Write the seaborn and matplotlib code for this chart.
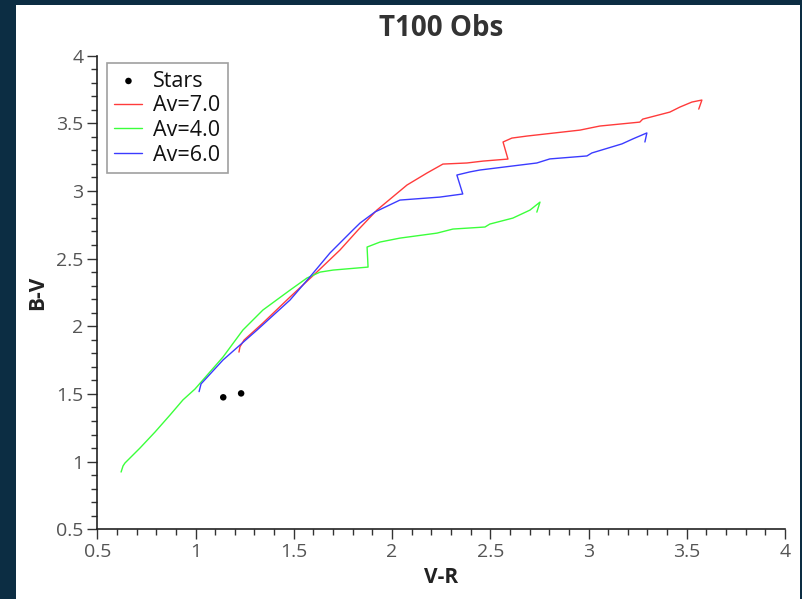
import matplotlib
matplotlib.use("Agg")
import matplotlib.pyplot as plt
from matplotlib.patches import Rectangle
from matplotlib.ticker import MultipleLocator
import numpy as np
import pandas as pd
import seaborn as sns

# Observed stars
stars_vr = [1.141, 1.232]
stars_bv = [1.475, 1.504]

# Reddening track, Av = 7.0
av7_vr = [1.221, 1.226, 1.247, 1.343, 1.481, 1.618, 1.735, 1.827, 1.923, 2.076,
          2.178, 2.259, 2.381, 2.463, 2.590, 2.565, 2.610, 2.687, 2.957, 3.007,
          3.058, 3.261, 3.276, 3.414, 3.465, 3.526, 3.577, 3.561]
av7_bv = [1.809, 1.848, 1.898, 2.024, 2.216, 2.401, 2.563, 2.711, 2.858, 3.043,
          3.132, 3.198, 3.206, 3.220, 3.235, 3.361, 3.390, 3.405, 3.449, 3.464,
          3.479, 3.508, 3.530, 3.582, 3.619, 3.656, 3.671, 3.604]

# Reddening track, Av = 4.0
av4_vr = [0.621, 0.631, 0.641, 0.717, 0.794, 0.870, 0.936, 0.997, 1.140, 1.241,
          1.343, 1.481, 1.567, 1.634, 1.700, 1.878, 1.873, 1.939, 2.040, 2.229,
          2.310, 2.473, 2.498, 2.615, 2.702, 2.753, 2.737]
av4_bv = [0.923, 0.968, 0.990, 1.100, 1.219, 1.344, 1.456, 1.536, 1.773, 1.972,
          2.120, 2.267, 2.356, 2.400, 2.415, 2.437, 2.585, 2.622, 2.651, 2.688,
          2.718, 2.733, 2.755, 2.799, 2.858, 2.917, 2.843]

# Reddening track, Av = 6.0
av6_vr = [1.018, 1.028, 1.140, 1.313, 1.481, 1.582, 1.684, 1.801, 1.837, 1.913,
          2.040, 2.243, 2.360, 2.330, 2.396, 2.447, 2.737, 2.803, 2.992, 3.017,
          3.170, 3.226, 3.297, 3.287]
av6_bv = [1.517, 1.574, 1.751, 1.972, 2.194, 2.364, 2.541, 2.711, 2.762, 2.844,
          2.932, 2.954, 2.977, 3.117, 3.140, 3.154, 3.206, 3.236, 3.258, 3.280,
          3.347, 3.384, 3.428, 3.361]

x_ticks = [0.5, 1, 1.5, 2, 2.5, 3, 3.5, 4]
y_ticks = [0.5, 1, 1.5, 2, 2.5, 3, 3.5, 4]

sns.set_theme(style="ticks")
plt.rcParams["font.family"] = ["Open Sans", "DejaVu Sans"]

W, H = 802, 599
fig = plt.figure(figsize=(W / 100, H / 100), dpi=100)
fig.patch.set_facecolor("#0c2d43")
# white page behind the plot
page = Rectangle((16 / W, 0), (800 - 16) / W, (H - 5) / H,
                 transform=fig.transFigure, facecolor="white",
                 edgecolor="none", zorder=-10)
fig.add_artist(page)

ax = fig.add_axes([97.3 / W, (H - 529.3) / H, (785 - 97.3) / W, (529.3 - 55.5) / H])
ax.set_zorder(1)
ax.set_facecolor("none")

sns.scatterplot(x=stars_vr, y=stars_bv, ax=ax, color="black", s=22,
                edgecolor="none", label="Stars", zorder=5)
tracks = [("Av=7.0", av7_vr, av7_bv, "#ff3b3b"),
          ("Av=4.0", av4_vr, av4_bv, "#3bff3b"),
          ("Av=6.0", av6_vr, av6_bv, "#3b3bff")]
for name, xs, ys, col in tracks:
    df = pd.DataFrame({"V-R": xs, "B-V": ys})
    sns.lineplot(data=df, x="V-R", y="B-V", ax=ax, sort=False, estimator=None,
                 color=col, lw=1.0, label=name)

ax.set_xlim(0.5, 4)
ax.set_ylim(0.5, 4)
ax.set_xticks(x_ticks)
ax.set_yticks(y_ticks)
ax.set_xticklabels([f"{t:g}" for t in x_ticks])
ax.set_yticklabels([f"{t:g}" for t in y_ticks])
ax.xaxis.set_minor_locator(MultipleLocator(0.1))
ax.yaxis.set_minor_locator(MultipleLocator(0.1))
ax.tick_params(which="major", direction="out", length=7, width=1, color="#333333",
               labelsize=14, labelcolor="#555555", pad=3)
ax.tick_params(which="minor", direction="out", length=4.5, width=1, color="#333333")
for side in ("top", "right"):
    ax.spines[side].set_visible(False)
for side in ("left", "bottom"):
    ax.spines[side].set_color("#222222")
    ax.spines[side].set_linewidth(1.2)

ax.set_xlabel("V-R", fontsize=15, fontweight="bold", color="#222222", labelpad=4)
ax.set_ylabel("B-V", fontsize=15, fontweight="bold", color="#222222", labelpad=6)
ax.set_title("T100 Obs", fontsize=20, fontweight="bold", color="#333333", pad=14)

leg = ax.legend(loc="upper left", bbox_to_anchor=(0.014, 0.984), borderaxespad=0,
                fontsize=15.5, frameon=True, fancybox=False, handlelength=1.3,
                handletextpad=0.5, labelspacing=0.17, borderpad=0.35)
leg.get_frame().set_edgecolor("#888888")
leg.get_frame().set_linewidth(1.2)
for t in leg.get_texts():
    t.set_color("#111111")

fig.savefig("out.png", dpi=100, facecolor=fig.get_facecolor())
